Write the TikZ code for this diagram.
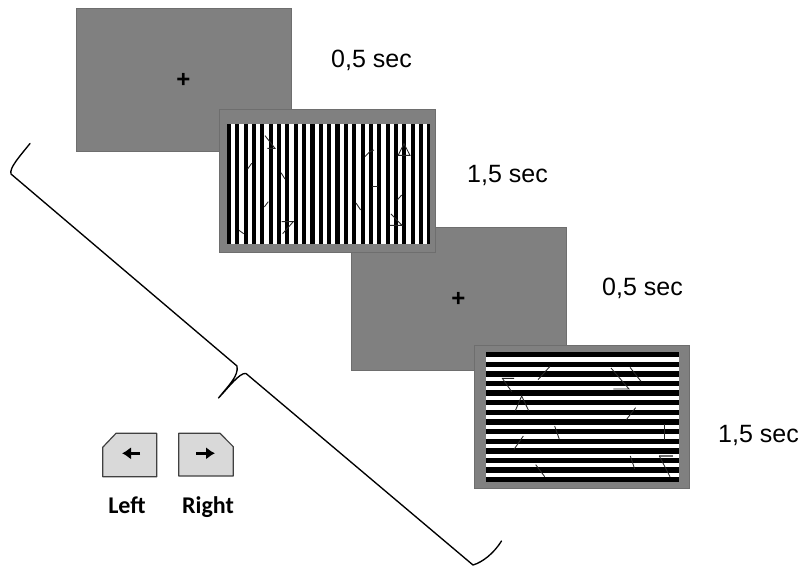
\documentclass[tikz,border=0pt]{standalone}
\usepackage{fontspec}
\setmainfont{Liberation Sans}
\newfontfamily\keyfont{Carlito}
\usetikzlibrary{arrows.meta}
\definecolor{panelgray}{HTML}{808080}
\definecolor{keygray}{HTML}{D9D9D9}
\definecolor{panelline}{HTML}{6E6E6E}
\tikzset{
  panel/.style={fill=panelgray,draw=panelline,line width=0.6pt,minimum width=#1,minimum height=143pt,inner sep=0pt,outer sep=0pt},
  panel/.default=215pt,
  timing/.style={font=\fontsize{25}{28}\selectfont,inner sep=0pt,anchor=west},
  fixmark/.style={font=\bfseries\fontsize{24}{26}\selectfont,inner sep=0pt},
  keylabel/.style={font=\keyfont\bfseries\fontsize{24}{26}\selectfont,inner sep=0pt,anchor=base},
  keyshape/.style={fill=keygray,draw=black!75,line width=1.2pt,line join=round},
  keyarrow/.style={-{Latex[length=9pt,width=12.5pt]},line width=3.5pt},
  frag/.style={line width=0.85pt,draw=black!85},
  bracket/.style={line width=1.35pt,line join=round,line cap=round}
}
\begin{document}
\begin{tikzpicture}[x=1pt,y=-1pt]
\useasboundingbox (0,0) rectangle (802,568);
\fill[white] (0,0) rectangle (802,568);
% panel 1
\node[panel] (p1) at (183.3,79.5) {};
\node[fixmark] (f1) at (183.5,80) {+};
% panel 3
\node[panel] (p3) at (458.3,299) {};
\node[fixmark] (f3) at (458.5,299.5) {+};
% panel 2
\node[panel=216pt] (p2) at (327,180.5) {};
\fill[white] (227,124) rectangle (430,243.7);
\foreach \i in {0,...,24} {
  \pgfmathsetmacro{\xa}{226.8+8.36*\i}
  \pgfmathsetmacro{\xb}{min(\xa+4.1,430)}
  \fill[black] (\xa,124) rectangle (\xb,243.7);
}
\begin{scope}[shift={(215,105)},x=0.3333pt,y=-0.3333pt,frag]
  \draw (150,92) -- (180,130) -- (157,130);
  \draw (98,192) -- (110,175);
  \draw (198,203) -- (210,222);
  \draw (148,306) -- (160,290);
  \draw (200,350) -- (235,350) -- (203,386);
  \draw (72,376) -- (86,386);
  \draw (450,155) -- (464,140) -- (477,135);
  \draw (548,151) -- (585,151) -- (567,116) -- (550,150);
  \draw (472,244) -- (488,244);
  \draw (547,285) -- (560,270);
  \draw (423,294) -- (437,315);
  \draw (528,327) -- (561,361) -- (525,361);
\end{scope}
% panel 4
\node[panel] (p4) at (581.5,416.5) {};
\fill[white] (486,351.7) rectangle (679,481.7);
\foreach \i in {0,...,13} {
  \pgfmathsetmacro{\ya}{352+9.62*\i}
  \pgfmathsetmacro{\yb}{min(\ya+5.3,481.7)}
  \fill[black] (486,\ya) rectangle (679,\yb);
}
\begin{scope}[shift={(470,340)},x=0.3333pt,y=-0.3333pt,frag]
  \draw (204,119) -- (240,79);
  \draw (132,115) -- (97,115) -- (125,155);
  \draw (136,212) -- (155,168) -- (176,212);
  \draw (423,84) -- (477,147) -- (430,147);
  \draw (480,82) -- (513,124);
  \draw (469,239) -- (497,203);
  \draw (254,258) -- (268,298);
  \draw (132,328) -- (160,288);
  \draw (584,252) -- (584,300);
  \draw[line width=1.4pt,draw=panelline] (568,348) -- (609,348);
  \draw (568,348) -- (600,410);
  \draw (481,348) -- (494,387);
  \draw (197,374) -- (224,410);
\end{scope}
% timings
\node[timing] (t1) at (331,60.5) {0,5 sec};
\node[timing] (t2) at (467,175) {1,5 sec};
\node[timing] (t3) at (602,288.5) {0,5 sec};
\node[timing] (t4) at (718,435.5) {1,5 sec};
% bracket
\coordinate (b0) at (30,143.5);
\coordinate (b1) at (11,174);
\coordinate (b2) at (237,366);
\coordinate (b3) at (218.5,398);
\coordinate (b4) at (246,373.5);
\coordinate (b5) at (473,565);
\coordinate (b6) at (501.5,541);
\draw[bracket] (b0) .. controls (20,156) and (9,168) .. (b1) -- (b2)
  .. controls (239,376) and (228,386) .. (b3)
  .. controls (228,388) and (240,372) .. (b4) -- (b5)
  .. controls (483,562) and (494,553) .. (b6);
% keys
\draw[keyshape] (102.7,447.3) -- (116,433.3) -- (156.7,433.3) -- (156.7,476.7) -- (102.7,476.7) -- cycle;
\draw[keyshape] (178.7,433.3) -- (220,433.3) -- (233.3,446.7) -- (233.3,476) -- (178.7,476) -- cycle;
\coordinate (la) at (140,453.3);
\coordinate (lb) at (122,453.3);
\coordinate (ra) at (196,453.3);
\coordinate (rb) at (215,453.3);
\draw[keyarrow] (la) -- (lb);
\draw[keyarrow] (ra) -- (rb);
\node[keylabel] (kl) at (127,513) {Left};
\node[keylabel] (kr) at (208,513) {Right};
\end{tikzpicture}
\end{document}
